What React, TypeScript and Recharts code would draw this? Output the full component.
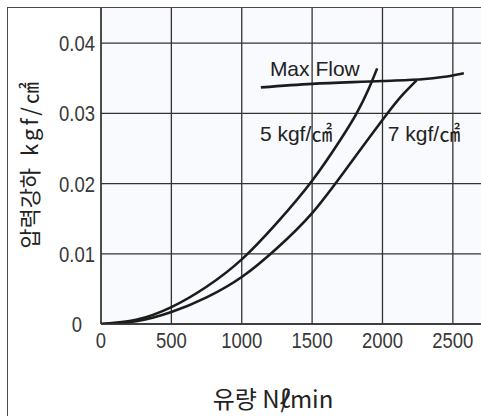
import React from "react"
import { LineChart, Line, XAxis, YAxis, CartesianGrid, ReferenceDot } from "recharts"

// flow in Nl/min, pressure drop in kgf/cm2
const flow5 = [0, 250, 500, 750, 1000, 1250, 1500, 1700, 1816, 1900, 1962]
const drop5 = [0, 0.0006, 0.0024, 0.0053, 0.0092, 0.0144, 0.0204, 0.0262, 0.03, 0.0334, 0.0364]

const flow7 = [0, 250, 500, 750, 1000, 1250, 1500, 1750, 2024, 2150, 2242]
const drop7 = [0, 0.0004, 0.0017, 0.0038, 0.0067, 0.0108, 0.0158, 0.0223, 0.0297, 0.0328, 0.0347]

const flowMax = [1136, 1500, 2000, 2300, 2500, 2578]
const dropMax = [0.0337, 0.0342, 0.0346, 0.0349, 0.0354, 0.0357]

const xTicks = [0, 500, 1000, 1500, 2000, 2500]
const yTicks = [0, 0.01, 0.02, 0.03, 0.04]
const yTickText = ["0", "0.01", "0.02", "0.03", "0.04"]

const toPoints = (xs: number[], ys: number[]) => xs.map((x, i) => ({ x, y: ys[i] }))

const curve5 = toPoints(flow5, drop5)
const curve7 = toPoints(flow7, drop7)
const maxFlow = toPoints(flowMax, dropMax)

const ink = "#1c1c1c"
const numFont = "'Liberation Sans', Arial, sans-serif"
const labelFont = "'Liberation Sans', 'Noto Sans CJK KR', sans-serif"
const krFont = "'Noto Sans CJK KR', sans-serif"

// tick numbers are set in a condensed face: squeeze the regular one horizontally
const Narrow = ({ x, y, children }: { x: number; y: number; children: React.ReactNode }) => (
  <text
    transform={`translate(${x},${y}) scale(0.84,1)`}
    textAnchor="middle"
    fontFamily={numFont}
    fontSize={22}
    fill="#383838"
  >
    {children}
  </text>
)

const YTick = (props: any) => {
  const { y, payload } = props
  const i = yTicks.indexOf(payload.value)
  return <Narrow x={77} y={y + 8}>{yTickText[i]}</Narrow>
}

const XTick = (props: any) => {
  const { x, y, payload } = props
  return <Narrow x={x} y={y + 16}>{payload.value}</Narrow>
}

const curveLabel = (text: string) => (props: any) => {
  const { viewBox } = props
  return (
    <text x={viewBox.x} y={viewBox.y} dy={8} fontFamily={labelFont} fontSize={21} fill="#222">
      {text}
    </text>
  )
}

export default function App() {
  return (
    <div style={{ position: "absolute", left: 0, top: 0, width: 481, height: 416, overflow: "hidden", background: "#fff" }}>
      <div
        style={{
          position: "absolute",
          left: 7,
          top: 7,
          width: 500,
          height: 440,
          border: "1.5px solid #4a4a4a",
        }}
      />
      <div style={{ position: "absolute", left: 0, top: 0 }}>
        <LineChart width={481} height={416} margin={{ top: 8, right: 0, bottom: 52, left: 41 }}>
          <CartesianGrid
            fill="#f9fafd"
            stroke="#333"
            strokeWidth={1.3}
            horizontalValues={yTicks}
            verticalValues={xTicks}
          />
          <XAxis
            type="number"
            dataKey="x"
            domain={[0, 2700]}
            ticks={xTicks}
            height={40}
            axisLine={{ stroke: "#333", strokeWidth: 1.3 }}
            tickLine={false}
            tick={<XTick />}
            allowDataOverflow
          />
          <YAxis
            type="number"
            dataKey="y"
            domain={[0, 0.045]}
            ticks={yTicks}
            width={60}
            axisLine={{ stroke: "#333", strokeWidth: 1.3 }}
            tickLine={false}
            tick={<YTick />}
            allowDataOverflow
          />
          <Line data={curve5} dataKey="y" type="natural" stroke={ink} strokeWidth={2.6} dot={false} isAnimationActive={false} />
          <Line data={curve7} dataKey="y" type="natural" stroke={ink} strokeWidth={2.6} dot={false} isAnimationActive={false} />
          <Line data={maxFlow} dataKey="y" type="monotone" stroke={ink} strokeWidth={2.6} dot={false} isAnimationActive={false} />
          <ReferenceDot x={1200} y={0.0364} r={0} stroke="none" label={curveLabel("Max Flow")} />
          <ReferenceDot x={1129} y={0.0272} r={0} stroke="none" label={curveLabel("5 kgf/㎠")} />
          <ReferenceDot x={2038} y={0.0272} r={0} stroke="none" label={curveLabel("7 kgf/㎠")} />
        </LineChart>
      </div>
      <div
        style={{
          position: "absolute",
          left: 28,
          top: 164,
          transform: "translate(-50%, -50%) rotate(-90deg)",
          whiteSpace: "nowrap",
          fontFamily: krFont,
          fontSize: 22,
          lineHeight: "26px",
          color: "#222",
        }}
      >
        압력강하
        <span style={{ letterSpacing: 3, marginLeft: 12 }}>kgf/㎠</span>
      </div>
      <div
        style={{
          position: "absolute",
          left: 273,
          top: 397,
          transform: "translate(-50%, -50%)",
          whiteSpace: "nowrap",
          fontFamily: krFont,
          fontSize: 24,
          color: "#222",
        }}
      >
        유량 N<span style={{ letterSpacing: -10 }}>ℓ</span>/min
      </div>
    </div>
  )
}
